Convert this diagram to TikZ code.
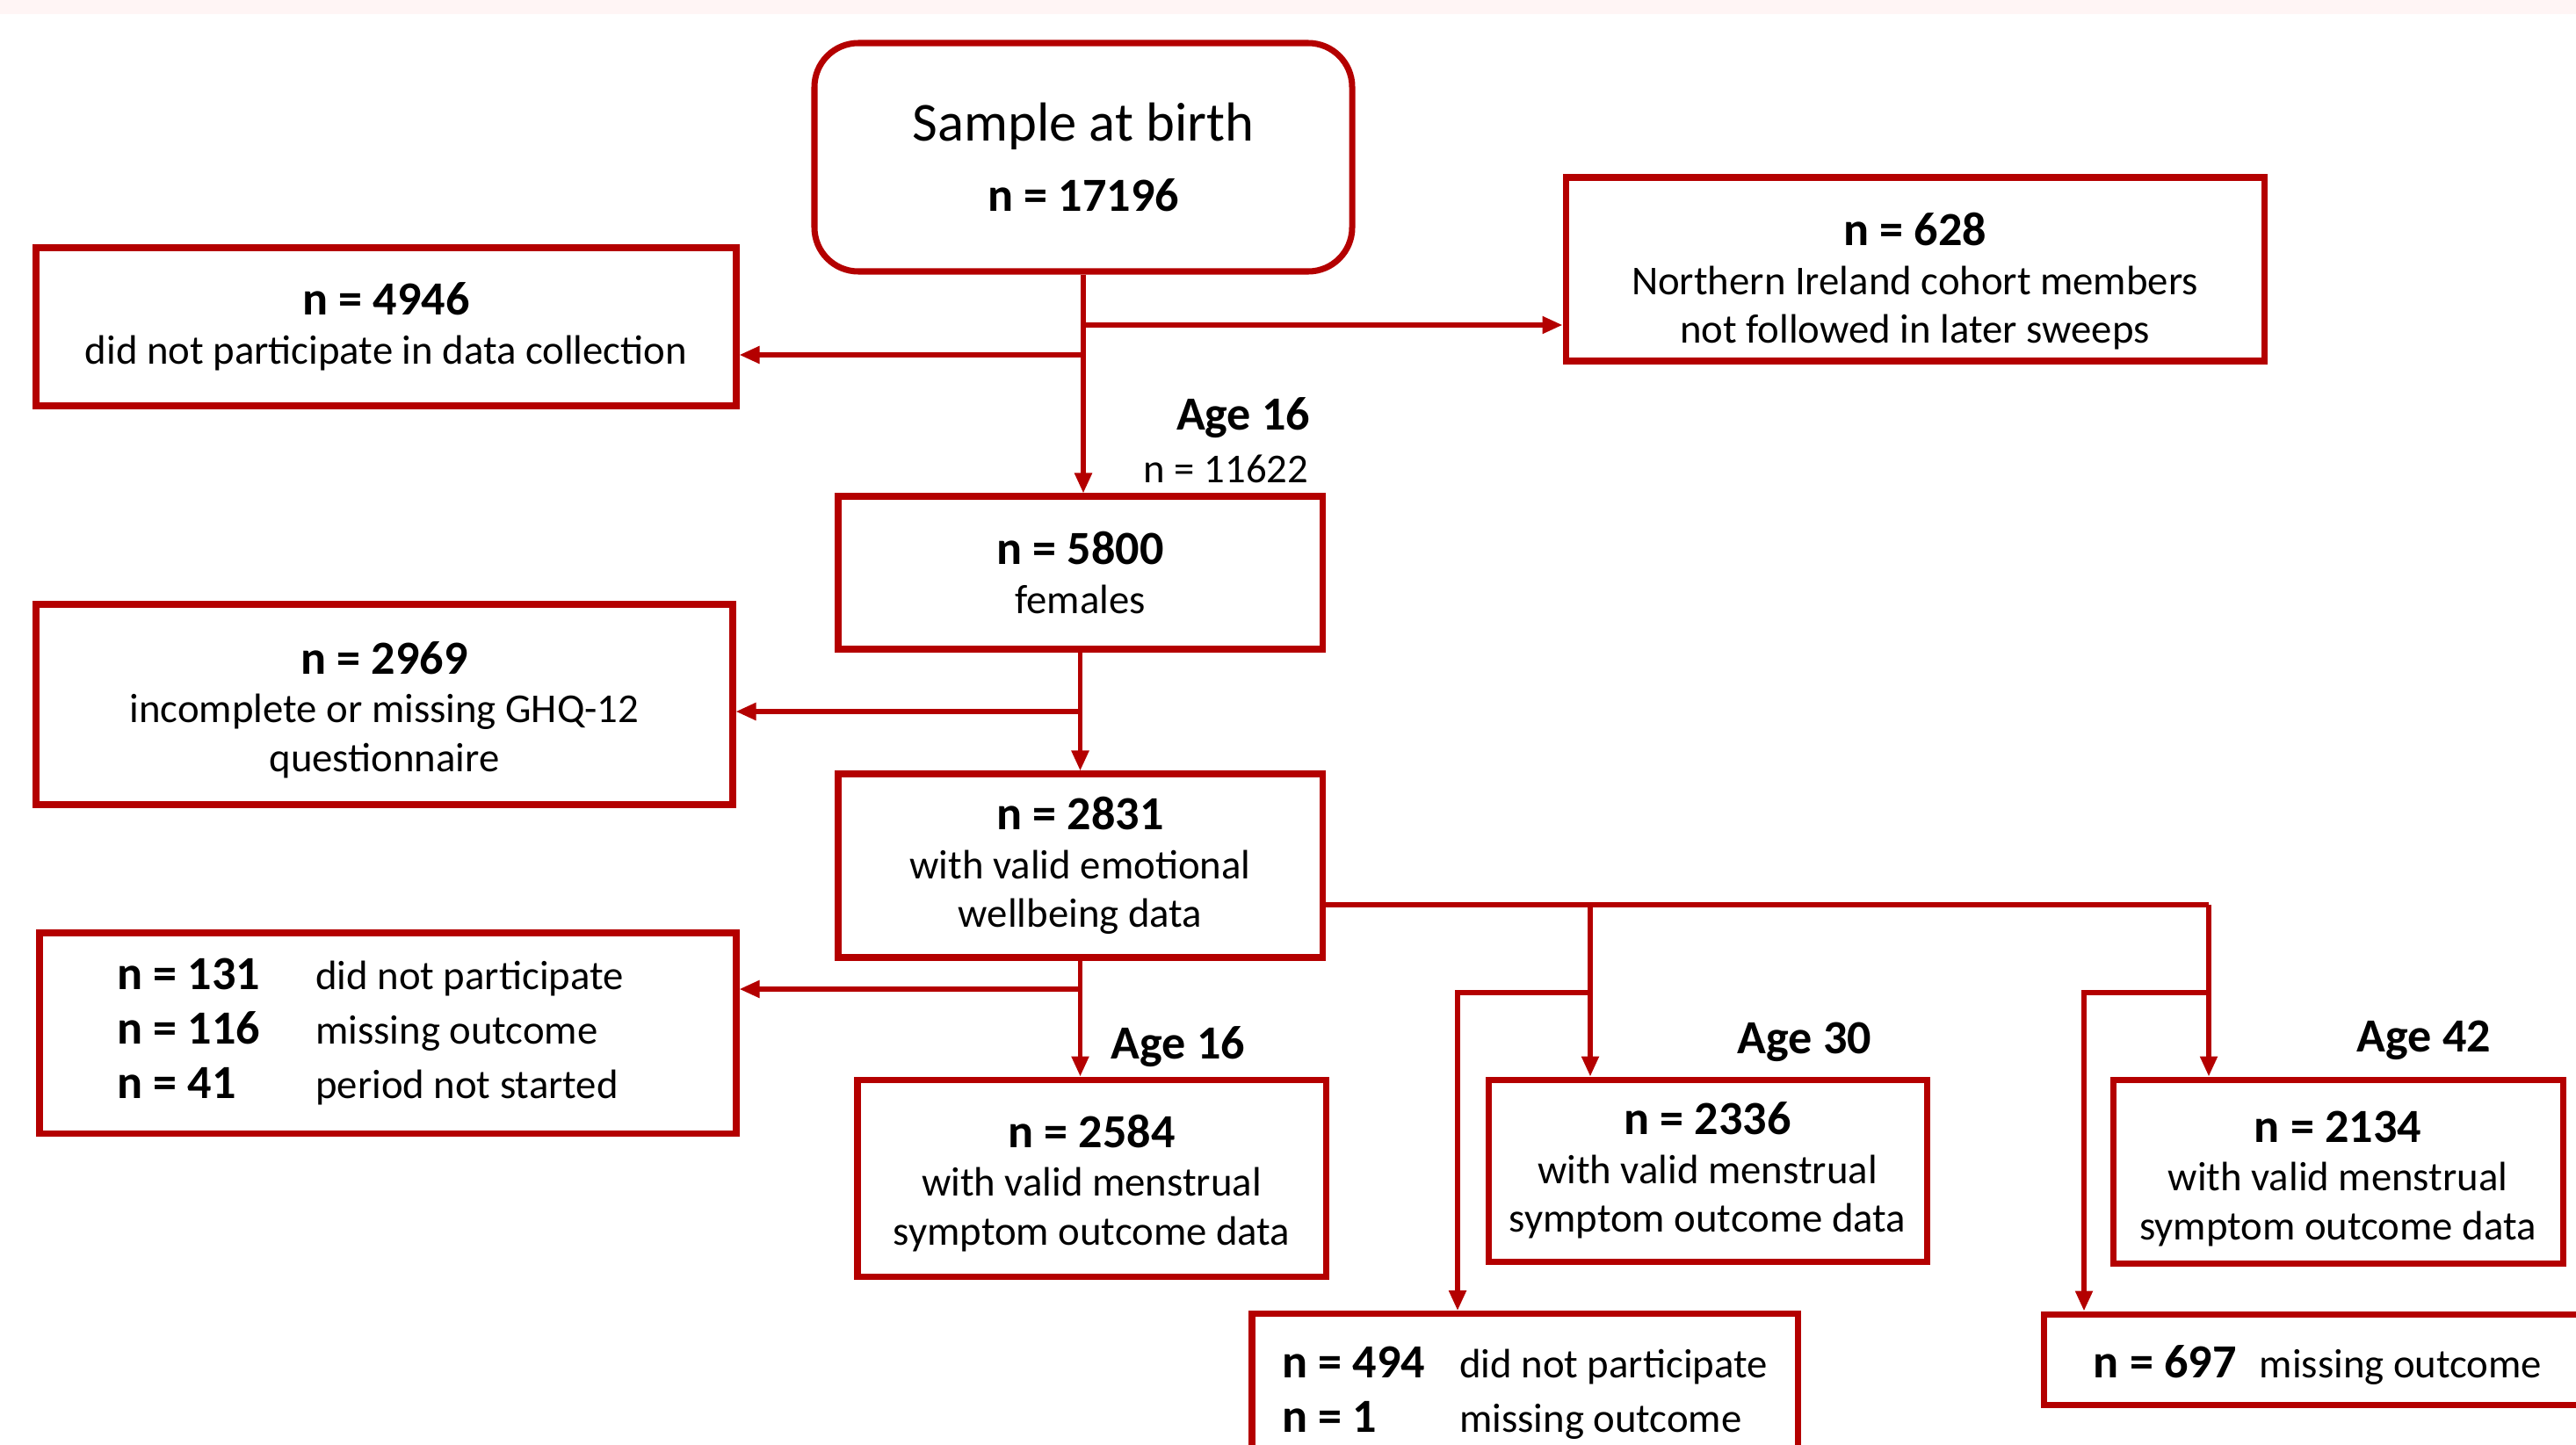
\documentclass[tikz,border=0pt]{standalone}
\usepackage{fontspec}
\setmainfont{Carlito}
\usetikzlibrary{arrows.meta}
\definecolor{flowred}{RGB}{180,0,0}
\newcommand{\nnum}[1]{{\fontsize{15.4}{18}\selectfont\bfseries #1}}
\newcommand{\topgap}[1]{\rule{0pt}{#1}}

\begin{document}
\begin{tikzpicture}[
    >={Triangle[length=0.23cm,width=0.19cm]},
    box/.style={draw=flowred, line width=2pt, inner sep=0pt, align=center,
        font=\fontsize{13.3}{15.8}\selectfont},
    birthbox/.style={box, rounded corners=0.5cm, font=\fontsize{17.8}{23}\selectfont},
    link/.style={draw=flowred, line width=1.5pt},
    agelabel/.style={inner sep=0pt, font=\fontsize{15.4}{18}\selectfont\bfseries}
]
            \clip (0,0) rectangle (29.32,-16.45);
            \fill[red!4] (0,0) rectangle (29.32,-0.16);

            % boxes
            \node[birthbox, minimum width=6.12cm, minimum height=2.6cm] (birth) at (12.33,-1.79)
                {Sample at birth\\ \nnum{n = 17196}};
            \node[box, minimum width=7.97cm, minimum height=1.8cm] (lost) at (4.395,-3.72)
                {\nnum{n = 4946}\\ did not participate in data collection};
            \node[box, minimum width=7.95cm, minimum height=2.09cm] (ni) at (21.795,-3.065)
                {\topgap{0.65cm}\nnum{n = 628}\\ Northern Ireland cohort members\\ not followed in later sweeps};
            \node[box, minimum width=5.51cm, minimum height=1.74cm] (fem) at (12.295,-6.52)
                {\nnum{n = 5800}\\ females};
            \node[box, minimum width=7.93cm, minimum height=2.28cm] (ghq) at (4.375,-8.02)
                {\topgap{0.49cm}\nnum{n = 2969}\\ incomplete or missing GHQ-12\\ questionnaire};
            \node[box, minimum width=5.51cm, minimum height=2.09cm] (emo) at (12.295,-9.855)
                {\nnum{n = 2831}\\ with valid emotional\\ wellbeing data};
            \node[box, minimum width=7.93cm, minimum height=2.28cm] (miss16) at (4.415,-11.76)
                {\def\arraystretch{1.114}\begin{tabular}{@{}p{2.26cm}@{}l@{}}
                    \nnum{n = 131} & did not participate\\
                    \nnum{n = 116} & missing outcome\\
                    \nnum{n = 41} & period not started
                \end{tabular}\hspace{0.4cm}};
            \node[box, minimum width=5.33cm, minimum height=2.24cm] (age16) at (12.425,-13.41)
                {\topgap{0.49cm}\nnum{n = 2584}\\ with valid menstrual\\ symptom outcome data};
            \node[box, minimum width=4.99cm, minimum height=2.07cm] (age30) at (19.435,-13.325)
                {\nnum{n = 2336}\\ with valid menstrual\\ symptom outcome data};
            \node[box, minimum width=5.12cm, minimum height=2.09cm] (age42) at (26.61,-13.335)
                {\topgap{0.52cm}\nnum{n = 2134}\\ with valid menstrual\\ symptom outcome data};
            \node[box, minimum width=6.21cm, inner ysep=0.3cm, anchor=north] (miss30) at (17.355,-14.92)
                {\def\arraystretch{1.114}\begin{tabular}{@{}p{2.02cm}@{}l@{}}
                    \nnum{n = 494} & did not participate\\
                    \nnum{n = 1} & missing outcome
                \end{tabular}};
            \node[box, minimum width=6.24cm, minimum height=1.03cm] (miss42) at (26.38,-15.475)
                {\topgap{0.49cm}\nnum{n = 697}\hspace{0.26cm}missing outcome};

            % age labels
            \node[agelabel, anchor=east] (lab16a) at (14.92,-4.76) {Age 16};
            \node[inner sep=0pt, anchor=east, font=\fontsize{13.3}{15.8}\selectfont] (lab16n) at (14.90,-5.34) {n = 11622};
            \node[agelabel, anchor=west] (lab16b) at (12.64,-11.92) {Age 16};
            \node[agelabel] (lab30) at (20.54,-11.86) {Age 30};
            \node[agelabel] (lab42) at (27.59,-11.84) {Age 42};

            % junctions
            \coordinate (j1) at (12.33,-4.04);
            \coordinate (j2) at (12.33,-3.70);
            \coordinate (j3) at (12.295,-8.10);
            \coordinate (j4) at (12.295,-11.26);
            \coordinate (k30) at (18.10,-10.30);
            \coordinate (k42) at (25.14,-10.30);
            \coordinate (m30) at (18.10,-11.30);
            \coordinate (m42) at (25.14,-11.30);
            \coordinate (d30) at (16.59,-11.30);
            \coordinate (d42) at (23.72,-11.30);

            % connectors
            \draw[link,->] (birth.south) -- (birth.south |- fem.north);
            \draw[link,->] (j1) -- (j1 -| lost.east);
            \draw[link,->] (j2) -- (j2 -| ni.west);
            \draw[link,->] (fem) -- (emo);
            \draw[link,->] (j3) -- (j3 -| ghq.east);
            \draw[link,->] (emo.south) -- (emo.south |- age16.north);
            \draw[link,->] (j4) -- (j4 -| miss16.east);
            \draw[link] (emo.east |- k30) -- (k42);
            \draw[link,->] (k30) -- (k30 |- age30.north);
            \draw[link,->] (k42) -- (k42 |- age42.north);
            \draw[link,->] (m30) -- (d30) -- (d30 |- miss30.north);
            \draw[link,->] (m42) -- (d42) -- (d42 |- miss42.north);
\end{tikzpicture}
\end{document}
